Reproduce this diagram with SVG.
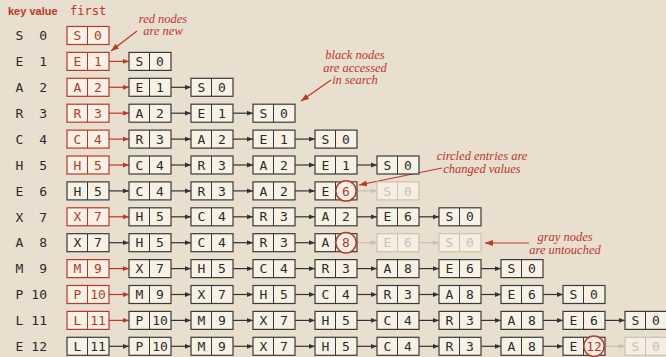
<svg xmlns="http://www.w3.org/2000/svg" width="666" height="357" viewBox="0 0 666 357">
<defs>
<style>
.bg{fill:#e8dfcf}
.nd rect{fill:#f8f2e6;stroke:#3a3a3a;stroke-width:1.2}
.nd line{stroke:#3a3a3a;stroke-width:1}
.nd text{font-family:"DejaVu Sans Mono",monospace;font-size:13px;fill:#2a2a2a;text-anchor:middle}
.red rect{stroke:#c0342b}
.red line{stroke:#c0342b}
.red text{fill:#c0342b}
.gray rect{stroke:#cbc2b4;fill:#f4eee3}
.gray line{stroke:#cbc2b4}
.gray text{fill:#c9c0b2}
.nd circle{fill:#f8f2e6;stroke:#c0342b;stroke-width:1.5}
.nd text.cv{fill:#c0342b}
.key text{font-family:"DejaVu Sans Mono",monospace;font-size:13px;fill:#2a2a2a}
.hdr{font-family:"Liberation Sans",Arial,sans-serif;font-weight:bold;font-size:11px;fill:#c0342b}
.first{font-family:"DejaVu Sans Mono",monospace;font-size:12px;fill:#c0342b}
.ann{font-family:"Liberation Serif","Times New Roman",serif;font-style:italic;font-size:12.5px;fill:#c0342b;text-anchor:middle}
.ck{stroke:#333;stroke-width:1.2;marker-end:url(#mk)}
.cr{stroke:#c0342b;stroke-width:1.2;marker-end:url(#mr)}
.cg{stroke:#c9c0b2;stroke-width:1.2;marker-end:url(#mg)}
.ca{stroke:#c0342b;stroke-width:1.2;marker-end:url(#ma)}
</style>
<marker id="mk" markerUnits="userSpaceOnUse" markerWidth="6" markerHeight="6" refX="6" refY="3" orient="auto"><path d="M0,0.6L6,3L0,5.4z" fill="#333"/></marker>
<marker id="mr" markerUnits="userSpaceOnUse" markerWidth="6" markerHeight="6" refX="6" refY="3" orient="auto"><path d="M0,0.6L6,3L0,5.4z" fill="#c0342b"/></marker>
<marker id="mg" markerUnits="userSpaceOnUse" markerWidth="6" markerHeight="6" refX="6" refY="3" orient="auto"><path d="M0,0.6L6,3L0,5.4z" fill="#c9c0b2"/></marker>
<marker id="ma" markerUnits="userSpaceOnUse" markerWidth="8" markerHeight="7" refX="8" refY="3.5" orient="auto"><path d="M0,0.5L8,3.5L0,6.5z" fill="#c0342b"/></marker>
</defs>
<rect class="bg" x="0" y="0" width="666" height="357"/>

<text class="hdr" x="8" y="15">key value</text>
<text class="first" x="70" y="15">first</text>

<g id="keys" class="key">
<text x="19.5" y="40.2" text-anchor="middle">S</text><text x="47" y="40.2" text-anchor="end">0</text>
<text x="19.5" y="66.1" text-anchor="middle">E</text><text x="47" y="66.1" text-anchor="end">1</text>
<text x="19.5" y="92" text-anchor="middle">A</text><text x="47" y="92" text-anchor="end">2</text>
<text x="19.5" y="117.9" text-anchor="middle">R</text><text x="47" y="117.9" text-anchor="end">3</text>
<text x="19.5" y="143.8" text-anchor="middle">C</text><text x="47" y="143.8" text-anchor="end">4</text>
<text x="19.5" y="169.7" text-anchor="middle">H</text><text x="47" y="169.7" text-anchor="end">5</text>
<text x="19.5" y="195.6" text-anchor="middle">E</text><text x="47" y="195.6" text-anchor="end">6</text>
<text x="19.5" y="221.5" text-anchor="middle">X</text><text x="47" y="221.5" text-anchor="end">7</text>
<text x="19.5" y="247.4" text-anchor="middle">A</text><text x="47" y="247.4" text-anchor="end">8</text>
<text x="19.5" y="273.3" text-anchor="middle">M</text><text x="47" y="273.3" text-anchor="end">9</text>
<text x="19.5" y="299.2" text-anchor="middle">P</text><text x="47" y="299.2" text-anchor="end">10</text>
<text x="19.5" y="325.1" text-anchor="middle">L</text><text x="47" y="325.1" text-anchor="end">11</text>
<text x="19.5" y="351" text-anchor="middle">E</text><text x="47" y="351" text-anchor="end">12</text>
</g>

<g id="connectors">
<line class="cr" x1="109" y1="61.4" x2="129" y2="61.4"/>
<line class="cr" x1="109" y1="87.3" x2="129" y2="87.3"/><line class="ck" x1="171" y1="87.3" x2="191" y2="87.3"/>
<line class="cr" x1="109" y1="113.2" x2="129" y2="113.2"/><line class="ck" x1="171" y1="113.2" x2="191" y2="113.2"/><line class="ck" x1="233" y1="113.2" x2="253" y2="113.2"/>
<line class="cr" x1="109" y1="139.1" x2="129" y2="139.1"/><line class="ck" x1="171" y1="139.1" x2="191" y2="139.1"/><line class="ck" x1="233" y1="139.1" x2="253" y2="139.1"/><line class="ck" x1="295" y1="139.1" x2="315" y2="139.1"/>
<line class="cr" x1="109" y1="165" x2="129" y2="165"/><line class="ck" x1="171" y1="165" x2="191" y2="165"/><line class="ck" x1="233" y1="165" x2="253" y2="165"/><line class="ck" x1="295" y1="165" x2="315" y2="165"/><line class="ck" x1="357" y1="165" x2="377" y2="165"/>
<line class="ck" x1="109" y1="190.9" x2="129" y2="190.9"/><line class="ck" x1="171" y1="190.9" x2="191" y2="190.9"/><line class="ck" x1="233" y1="190.9" x2="253" y2="190.9"/><line class="ck" x1="295" y1="190.9" x2="315" y2="190.9"/><line class="cg" x1="357" y1="190.9" x2="377" y2="190.9"/>
<line class="cr" x1="109" y1="216.8" x2="129" y2="216.8"/><line class="ck" x1="171" y1="216.8" x2="191" y2="216.8"/><line class="ck" x1="233" y1="216.8" x2="253" y2="216.8"/><line class="ck" x1="295" y1="216.8" x2="315" y2="216.8"/><line class="ck" x1="357" y1="216.8" x2="377" y2="216.8"/><line class="ck" x1="419" y1="216.8" x2="439" y2="216.8"/>
<line class="ck" x1="109" y1="242.7" x2="129" y2="242.7"/><line class="ck" x1="171" y1="242.7" x2="191" y2="242.7"/><line class="ck" x1="233" y1="242.7" x2="253" y2="242.7"/><line class="ck" x1="295" y1="242.7" x2="315" y2="242.7"/><line class="cg" x1="357" y1="242.7" x2="377" y2="242.7"/><line class="cg" x1="419" y1="242.7" x2="439" y2="242.7"/>
<line class="cr" x1="109" y1="268.6" x2="129" y2="268.6"/><line class="ck" x1="171" y1="268.6" x2="191" y2="268.6"/><line class="ck" x1="233" y1="268.6" x2="253" y2="268.6"/><line class="ck" x1="295" y1="268.6" x2="315" y2="268.6"/><line class="ck" x1="357" y1="268.6" x2="377" y2="268.6"/><line class="ck" x1="419" y1="268.6" x2="439" y2="268.6"/><line class="ck" x1="481" y1="268.6" x2="501" y2="268.6"/>
<line class="cr" x1="109" y1="294.5" x2="129" y2="294.5"/><line class="ck" x1="171" y1="294.5" x2="191" y2="294.5"/><line class="ck" x1="233" y1="294.5" x2="253" y2="294.5"/><line class="ck" x1="295" y1="294.5" x2="315" y2="294.5"/><line class="ck" x1="357" y1="294.5" x2="377" y2="294.5"/><line class="ck" x1="419" y1="294.5" x2="439" y2="294.5"/><line class="ck" x1="481" y1="294.5" x2="501" y2="294.5"/><line class="ck" x1="543" y1="294.5" x2="563" y2="294.5"/>
<line class="cr" x1="109" y1="320.4" x2="129" y2="320.4"/><line class="ck" x1="171" y1="320.4" x2="191" y2="320.4"/><line class="ck" x1="233" y1="320.4" x2="253" y2="320.4"/><line class="ck" x1="295" y1="320.4" x2="315" y2="320.4"/><line class="ck" x1="357" y1="320.4" x2="377" y2="320.4"/><line class="ck" x1="419" y1="320.4" x2="439" y2="320.4"/><line class="ck" x1="481" y1="320.4" x2="501" y2="320.4"/><line class="ck" x1="543" y1="320.4" x2="563" y2="320.4"/><line class="ck" x1="605" y1="320.4" x2="625" y2="320.4"/>
<line class="ck" x1="109" y1="346.3" x2="129" y2="346.3"/><line class="ck" x1="171" y1="346.3" x2="191" y2="346.3"/><line class="ck" x1="233" y1="346.3" x2="253" y2="346.3"/><line class="ck" x1="295" y1="346.3" x2="315" y2="346.3"/><line class="ck" x1="357" y1="346.3" x2="377" y2="346.3"/><line class="ck" x1="419" y1="346.3" x2="439" y2="346.3"/><line class="ck" x1="481" y1="346.3" x2="501" y2="346.3"/><line class="ck" x1="543" y1="346.3" x2="563" y2="346.3"/><line class="cg" x1="605" y1="346.3" x2="625" y2="346.3"/>
<line class="ca" x1="137" y1="31" x2="111" y2="51"/>
<line class="ca" x1="331" y1="80" x2="301" y2="101"/>
<line class="ca" x1="442" y1="168" x2="359" y2="185"/>
<line class="ca" x1="529" y1="243" x2="485" y2="243"/>
</g>

<g id="annotations">
<text class="ann" x="163" y="22.5">red nodes</text><text class="ann" x="163" y="35">are new</text>
<text class="ann" x="355" y="59">black nodes</text><text class="ann" x="355" y="71.5">are accessed</text><text class="ann" x="355" y="84">in search</text>
<text class="ann" x="482" y="159.5">circled entries are</text><text class="ann" x="482" y="172.5">changed values</text>
<text class="ann" x="565" y="240.5">gray nodes</text><text class="ann" x="565" y="253.5">are untouched</text>
</g>

<g id="n0_0" class="nd red" transform="translate(67,26.5)"><rect width="42" height="18"/><line x1="20.5" y1="0" x2="20.5" y2="18"/><text x="10.5" y="13.7">S</text><text x="31" y="13.7">0</text></g>
<g id="n1_0" class="nd red" transform="translate(67,52.4)"><rect width="42" height="18"/><line x1="20.5" y1="0" x2="20.5" y2="18"/><text x="10.5" y="13.7">E</text><text x="31" y="13.7">1</text></g>
<g id="n1_1" class="nd" transform="translate(129,52.4)"><rect width="42" height="18"/><line x1="20.5" y1="0" x2="20.5" y2="18"/><text x="10.5" y="13.7">S</text><text x="31" y="13.7">0</text></g>
<g id="n2_0" class="nd red" transform="translate(67,78.3)"><rect width="42" height="18"/><line x1="20.5" y1="0" x2="20.5" y2="18"/><text x="10.5" y="13.7">A</text><text x="31" y="13.7">2</text></g>
<g id="n2_1" class="nd" transform="translate(129,78.3)"><rect width="42" height="18"/><line x1="20.5" y1="0" x2="20.5" y2="18"/><text x="10.5" y="13.7">E</text><text x="31" y="13.7">1</text></g>
<g id="n2_2" class="nd" transform="translate(191,78.3)"><rect width="42" height="18"/><line x1="20.5" y1="0" x2="20.5" y2="18"/><text x="10.5" y="13.7">S</text><text x="31" y="13.7">0</text></g>
<g id="n3_0" class="nd red" transform="translate(67,104.2)"><rect width="42" height="18"/><line x1="20.5" y1="0" x2="20.5" y2="18"/><text x="10.5" y="13.7">R</text><text x="31" y="13.7">3</text></g>
<g id="n3_1" class="nd" transform="translate(129,104.2)"><rect width="42" height="18"/><line x1="20.5" y1="0" x2="20.5" y2="18"/><text x="10.5" y="13.7">A</text><text x="31" y="13.7">2</text></g>
<g id="n3_2" class="nd" transform="translate(191,104.2)"><rect width="42" height="18"/><line x1="20.5" y1="0" x2="20.5" y2="18"/><text x="10.5" y="13.7">E</text><text x="31" y="13.7">1</text></g>
<g id="n3_3" class="nd" transform="translate(253,104.2)"><rect width="42" height="18"/><line x1="20.5" y1="0" x2="20.5" y2="18"/><text x="10.5" y="13.7">S</text><text x="31" y="13.7">0</text></g>
<g id="n4_0" class="nd red" transform="translate(67,130.1)"><rect width="42" height="18"/><line x1="20.5" y1="0" x2="20.5" y2="18"/><text x="10.5" y="13.7">C</text><text x="31" y="13.7">4</text></g>
<g id="n4_1" class="nd" transform="translate(129,130.1)"><rect width="42" height="18"/><line x1="20.5" y1="0" x2="20.5" y2="18"/><text x="10.5" y="13.7">R</text><text x="31" y="13.7">3</text></g>
<g id="n4_2" class="nd" transform="translate(191,130.1)"><rect width="42" height="18"/><line x1="20.5" y1="0" x2="20.5" y2="18"/><text x="10.5" y="13.7">A</text><text x="31" y="13.7">2</text></g>
<g id="n4_3" class="nd" transform="translate(253,130.1)"><rect width="42" height="18"/><line x1="20.5" y1="0" x2="20.5" y2="18"/><text x="10.5" y="13.7">E</text><text x="31" y="13.7">1</text></g>
<g id="n4_4" class="nd" transform="translate(315,130.1)"><rect width="42" height="18"/><line x1="20.5" y1="0" x2="20.5" y2="18"/><text x="10.5" y="13.7">S</text><text x="31" y="13.7">0</text></g>
<g id="n5_0" class="nd red" transform="translate(67,156)"><rect width="42" height="18"/><line x1="20.5" y1="0" x2="20.5" y2="18"/><text x="10.5" y="13.7">H</text><text x="31" y="13.7">5</text></g>
<g id="n5_1" class="nd" transform="translate(129,156)"><rect width="42" height="18"/><line x1="20.5" y1="0" x2="20.5" y2="18"/><text x="10.5" y="13.7">C</text><text x="31" y="13.7">4</text></g>
<g id="n5_2" class="nd" transform="translate(191,156)"><rect width="42" height="18"/><line x1="20.5" y1="0" x2="20.5" y2="18"/><text x="10.5" y="13.7">R</text><text x="31" y="13.7">3</text></g>
<g id="n5_3" class="nd" transform="translate(253,156)"><rect width="42" height="18"/><line x1="20.5" y1="0" x2="20.5" y2="18"/><text x="10.5" y="13.7">A</text><text x="31" y="13.7">2</text></g>
<g id="n5_4" class="nd" transform="translate(315,156)"><rect width="42" height="18"/><line x1="20.5" y1="0" x2="20.5" y2="18"/><text x="10.5" y="13.7">E</text><text x="31" y="13.7">1</text></g>
<g id="n5_5" class="nd" transform="translate(377,156)"><rect width="42" height="18"/><line x1="20.5" y1="0" x2="20.5" y2="18"/><text x="10.5" y="13.7">S</text><text x="31" y="13.7">0</text></g>
<g id="n6_0" class="nd" transform="translate(67,181.9)"><rect width="42" height="18"/><line x1="20.5" y1="0" x2="20.5" y2="18"/><text x="10.5" y="13.7">H</text><text x="31" y="13.7">5</text></g>
<g id="n6_1" class="nd" transform="translate(129,181.9)"><rect width="42" height="18"/><line x1="20.5" y1="0" x2="20.5" y2="18"/><text x="10.5" y="13.7">C</text><text x="31" y="13.7">4</text></g>
<g id="n6_2" class="nd" transform="translate(191,181.9)"><rect width="42" height="18"/><line x1="20.5" y1="0" x2="20.5" y2="18"/><text x="10.5" y="13.7">R</text><text x="31" y="13.7">3</text></g>
<g id="n6_3" class="nd" transform="translate(253,181.9)"><rect width="42" height="18"/><line x1="20.5" y1="0" x2="20.5" y2="18"/><text x="10.5" y="13.7">A</text><text x="31" y="13.7">2</text></g>
<g id="n6_4" class="nd" transform="translate(315,181.9)"><rect width="42" height="18"/><line x1="20.5" y1="0" x2="20.5" y2="18"/><text x="10.5" y="13.7">E</text><circle cx="31" cy="9" r="10.2"/><text class="cv" x="31" y="13.7">6</text></g>
<g id="n6_5" class="nd gray" transform="translate(377,181.9)"><rect width="42" height="18"/><line x1="20.5" y1="0" x2="20.5" y2="18"/><text x="10.5" y="13.7">S</text><text x="31" y="13.7">0</text></g>
<g id="n7_0" class="nd red" transform="translate(67,207.8)"><rect width="42" height="18"/><line x1="20.5" y1="0" x2="20.5" y2="18"/><text x="10.5" y="13.7">X</text><text x="31" y="13.7">7</text></g>
<g id="n7_1" class="nd" transform="translate(129,207.8)"><rect width="42" height="18"/><line x1="20.5" y1="0" x2="20.5" y2="18"/><text x="10.5" y="13.7">H</text><text x="31" y="13.7">5</text></g>
<g id="n7_2" class="nd" transform="translate(191,207.8)"><rect width="42" height="18"/><line x1="20.5" y1="0" x2="20.5" y2="18"/><text x="10.5" y="13.7">C</text><text x="31" y="13.7">4</text></g>
<g id="n7_3" class="nd" transform="translate(253,207.8)"><rect width="42" height="18"/><line x1="20.5" y1="0" x2="20.5" y2="18"/><text x="10.5" y="13.7">R</text><text x="31" y="13.7">3</text></g>
<g id="n7_4" class="nd" transform="translate(315,207.8)"><rect width="42" height="18"/><line x1="20.5" y1="0" x2="20.5" y2="18"/><text x="10.5" y="13.7">A</text><text x="31" y="13.7">2</text></g>
<g id="n7_5" class="nd" transform="translate(377,207.8)"><rect width="42" height="18"/><line x1="20.5" y1="0" x2="20.5" y2="18"/><text x="10.5" y="13.7">E</text><text x="31" y="13.7">6</text></g>
<g id="n7_6" class="nd" transform="translate(439,207.8)"><rect width="42" height="18"/><line x1="20.5" y1="0" x2="20.5" y2="18"/><text x="10.5" y="13.7">S</text><text x="31" y="13.7">0</text></g>
<g id="n8_0" class="nd" transform="translate(67,233.7)"><rect width="42" height="18"/><line x1="20.5" y1="0" x2="20.5" y2="18"/><text x="10.5" y="13.7">X</text><text x="31" y="13.7">7</text></g>
<g id="n8_1" class="nd" transform="translate(129,233.7)"><rect width="42" height="18"/><line x1="20.5" y1="0" x2="20.5" y2="18"/><text x="10.5" y="13.7">H</text><text x="31" y="13.7">5</text></g>
<g id="n8_2" class="nd" transform="translate(191,233.7)"><rect width="42" height="18"/><line x1="20.5" y1="0" x2="20.5" y2="18"/><text x="10.5" y="13.7">C</text><text x="31" y="13.7">4</text></g>
<g id="n8_3" class="nd" transform="translate(253,233.7)"><rect width="42" height="18"/><line x1="20.5" y1="0" x2="20.5" y2="18"/><text x="10.5" y="13.7">R</text><text x="31" y="13.7">3</text></g>
<g id="n8_4" class="nd" transform="translate(315,233.7)"><rect width="42" height="18"/><line x1="20.5" y1="0" x2="20.5" y2="18"/><text x="10.5" y="13.7">A</text><circle cx="31" cy="9" r="10.2"/><text class="cv" x="31" y="13.7">8</text></g>
<g id="n8_5" class="nd gray" transform="translate(377,233.7)"><rect width="42" height="18"/><line x1="20.5" y1="0" x2="20.5" y2="18"/><text x="10.5" y="13.7">E</text><text x="31" y="13.7">6</text></g>
<g id="n8_6" class="nd gray" transform="translate(439,233.7)"><rect width="42" height="18"/><line x1="20.5" y1="0" x2="20.5" y2="18"/><text x="10.5" y="13.7">S</text><text x="31" y="13.7">0</text></g>
<g id="n9_0" class="nd red" transform="translate(67,259.6)"><rect width="42" height="18"/><line x1="20.5" y1="0" x2="20.5" y2="18"/><text x="10.5" y="13.7">M</text><text x="31" y="13.7">9</text></g>
<g id="n9_1" class="nd" transform="translate(129,259.6)"><rect width="42" height="18"/><line x1="20.5" y1="0" x2="20.5" y2="18"/><text x="10.5" y="13.7">X</text><text x="31" y="13.7">7</text></g>
<g id="n9_2" class="nd" transform="translate(191,259.6)"><rect width="42" height="18"/><line x1="20.5" y1="0" x2="20.5" y2="18"/><text x="10.5" y="13.7">H</text><text x="31" y="13.7">5</text></g>
<g id="n9_3" class="nd" transform="translate(253,259.6)"><rect width="42" height="18"/><line x1="20.5" y1="0" x2="20.5" y2="18"/><text x="10.5" y="13.7">C</text><text x="31" y="13.7">4</text></g>
<g id="n9_4" class="nd" transform="translate(315,259.6)"><rect width="42" height="18"/><line x1="20.5" y1="0" x2="20.5" y2="18"/><text x="10.5" y="13.7">R</text><text x="31" y="13.7">3</text></g>
<g id="n9_5" class="nd" transform="translate(377,259.6)"><rect width="42" height="18"/><line x1="20.5" y1="0" x2="20.5" y2="18"/><text x="10.5" y="13.7">A</text><text x="31" y="13.7">8</text></g>
<g id="n9_6" class="nd" transform="translate(439,259.6)"><rect width="42" height="18"/><line x1="20.5" y1="0" x2="20.5" y2="18"/><text x="10.5" y="13.7">E</text><text x="31" y="13.7">6</text></g>
<g id="n9_7" class="nd" transform="translate(501,259.6)"><rect width="42" height="18"/><line x1="20.5" y1="0" x2="20.5" y2="18"/><text x="10.5" y="13.7">S</text><text x="31" y="13.7">0</text></g>
<g id="n10_0" class="nd red" transform="translate(67,285.5)"><rect width="42" height="18"/><line x1="20.5" y1="0" x2="20.5" y2="18"/><text x="10.5" y="13.7">P</text><text x="31" y="13.7">10</text></g>
<g id="n10_1" class="nd" transform="translate(129,285.5)"><rect width="42" height="18"/><line x1="20.5" y1="0" x2="20.5" y2="18"/><text x="10.5" y="13.7">M</text><text x="31" y="13.7">9</text></g>
<g id="n10_2" class="nd" transform="translate(191,285.5)"><rect width="42" height="18"/><line x1="20.5" y1="0" x2="20.5" y2="18"/><text x="10.5" y="13.7">X</text><text x="31" y="13.7">7</text></g>
<g id="n10_3" class="nd" transform="translate(253,285.5)"><rect width="42" height="18"/><line x1="20.5" y1="0" x2="20.5" y2="18"/><text x="10.5" y="13.7">H</text><text x="31" y="13.7">5</text></g>
<g id="n10_4" class="nd" transform="translate(315,285.5)"><rect width="42" height="18"/><line x1="20.5" y1="0" x2="20.5" y2="18"/><text x="10.5" y="13.7">C</text><text x="31" y="13.7">4</text></g>
<g id="n10_5" class="nd" transform="translate(377,285.5)"><rect width="42" height="18"/><line x1="20.5" y1="0" x2="20.5" y2="18"/><text x="10.5" y="13.7">R</text><text x="31" y="13.7">3</text></g>
<g id="n10_6" class="nd" transform="translate(439,285.5)"><rect width="42" height="18"/><line x1="20.5" y1="0" x2="20.5" y2="18"/><text x="10.5" y="13.7">A</text><text x="31" y="13.7">8</text></g>
<g id="n10_7" class="nd" transform="translate(501,285.5)"><rect width="42" height="18"/><line x1="20.5" y1="0" x2="20.5" y2="18"/><text x="10.5" y="13.7">E</text><text x="31" y="13.7">6</text></g>
<g id="n10_8" class="nd" transform="translate(563,285.5)"><rect width="42" height="18"/><line x1="20.5" y1="0" x2="20.5" y2="18"/><text x="10.5" y="13.7">S</text><text x="31" y="13.7">0</text></g>
<g id="n11_0" class="nd red" transform="translate(67,311.4)"><rect width="42" height="18"/><line x1="20.5" y1="0" x2="20.5" y2="18"/><text x="10.5" y="13.7">L</text><text x="31" y="13.7">11</text></g>
<g id="n11_1" class="nd" transform="translate(129,311.4)"><rect width="42" height="18"/><line x1="20.5" y1="0" x2="20.5" y2="18"/><text x="10.5" y="13.7">P</text><text x="31" y="13.7">10</text></g>
<g id="n11_2" class="nd" transform="translate(191,311.4)"><rect width="42" height="18"/><line x1="20.5" y1="0" x2="20.5" y2="18"/><text x="10.5" y="13.7">M</text><text x="31" y="13.7">9</text></g>
<g id="n11_3" class="nd" transform="translate(253,311.4)"><rect width="42" height="18"/><line x1="20.5" y1="0" x2="20.5" y2="18"/><text x="10.5" y="13.7">X</text><text x="31" y="13.7">7</text></g>
<g id="n11_4" class="nd" transform="translate(315,311.4)"><rect width="42" height="18"/><line x1="20.5" y1="0" x2="20.5" y2="18"/><text x="10.5" y="13.7">H</text><text x="31" y="13.7">5</text></g>
<g id="n11_5" class="nd" transform="translate(377,311.4)"><rect width="42" height="18"/><line x1="20.5" y1="0" x2="20.5" y2="18"/><text x="10.5" y="13.7">C</text><text x="31" y="13.7">4</text></g>
<g id="n11_6" class="nd" transform="translate(439,311.4)"><rect width="42" height="18"/><line x1="20.5" y1="0" x2="20.5" y2="18"/><text x="10.5" y="13.7">R</text><text x="31" y="13.7">3</text></g>
<g id="n11_7" class="nd" transform="translate(501,311.4)"><rect width="42" height="18"/><line x1="20.5" y1="0" x2="20.5" y2="18"/><text x="10.5" y="13.7">A</text><text x="31" y="13.7">8</text></g>
<g id="n11_8" class="nd" transform="translate(563,311.4)"><rect width="42" height="18"/><line x1="20.5" y1="0" x2="20.5" y2="18"/><text x="10.5" y="13.7">E</text><text x="31" y="13.7">6</text></g>
<g id="n11_9" class="nd" transform="translate(625,311.4)"><rect width="42" height="18"/><line x1="20.5" y1="0" x2="20.5" y2="18"/><text x="10.5" y="13.7">S</text><text x="31" y="13.7">0</text></g>
<g id="n12_0" class="nd" transform="translate(67,337.3)"><rect width="42" height="18"/><line x1="20.5" y1="0" x2="20.5" y2="18"/><text x="10.5" y="13.7">L</text><text x="31" y="13.7">11</text></g>
<g id="n12_1" class="nd" transform="translate(129,337.3)"><rect width="42" height="18"/><line x1="20.5" y1="0" x2="20.5" y2="18"/><text x="10.5" y="13.7">P</text><text x="31" y="13.7">10</text></g>
<g id="n12_2" class="nd" transform="translate(191,337.3)"><rect width="42" height="18"/><line x1="20.5" y1="0" x2="20.5" y2="18"/><text x="10.5" y="13.7">M</text><text x="31" y="13.7">9</text></g>
<g id="n12_3" class="nd" transform="translate(253,337.3)"><rect width="42" height="18"/><line x1="20.5" y1="0" x2="20.5" y2="18"/><text x="10.5" y="13.7">X</text><text x="31" y="13.7">7</text></g>
<g id="n12_4" class="nd" transform="translate(315,337.3)"><rect width="42" height="18"/><line x1="20.5" y1="0" x2="20.5" y2="18"/><text x="10.5" y="13.7">H</text><text x="31" y="13.7">5</text></g>
<g id="n12_5" class="nd" transform="translate(377,337.3)"><rect width="42" height="18"/><line x1="20.5" y1="0" x2="20.5" y2="18"/><text x="10.5" y="13.7">C</text><text x="31" y="13.7">4</text></g>
<g id="n12_6" class="nd" transform="translate(439,337.3)"><rect width="42" height="18"/><line x1="20.5" y1="0" x2="20.5" y2="18"/><text x="10.5" y="13.7">R</text><text x="31" y="13.7">3</text></g>
<g id="n12_7" class="nd" transform="translate(501,337.3)"><rect width="42" height="18"/><line x1="20.5" y1="0" x2="20.5" y2="18"/><text x="10.5" y="13.7">A</text><text x="31" y="13.7">8</text></g>
<g id="n12_8" class="nd" transform="translate(563,337.3)"><rect width="42" height="18"/><line x1="20.5" y1="0" x2="20.5" y2="18"/><text x="10.5" y="13.7">E</text><circle cx="31" cy="9" r="10.2"/><text class="cv" x="31" y="13.7">12</text></g>
<g id="n12_9" class="nd gray" transform="translate(625,337.3)"><rect width="42" height="18"/><line x1="20.5" y1="0" x2="20.5" y2="18"/><text x="10.5" y="13.7">S</text><text x="31" y="13.7">0</text></g>
</svg>
